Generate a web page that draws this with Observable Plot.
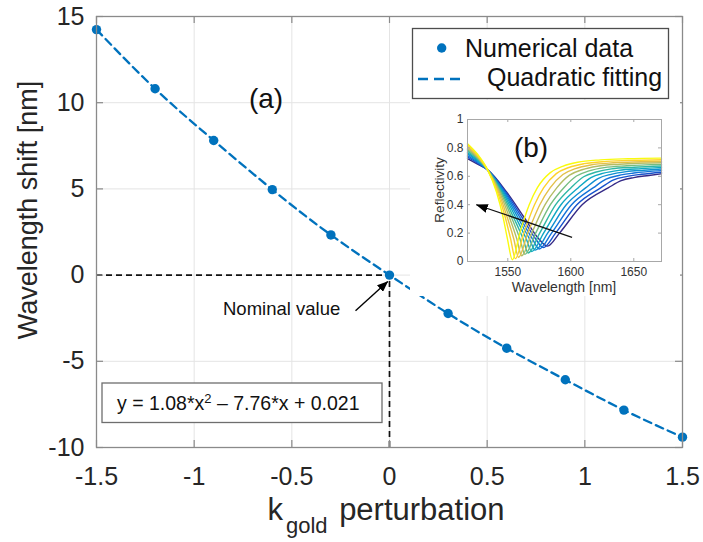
<!DOCTYPE html>
<html>
<head>
<meta charset="utf-8">
<script src="https://cdn.jsdelivr.net/npm/d3@7"></script>
<script src="https://cdn.jsdelivr.net/npm/@observablehq/plot@0.6"></script>
<style>
  html, body { margin: 0; padding: 0; background: #fff; }
  #chart { position: relative; width: 703px; height: 542px; overflow: hidden; }
  #inset { position: absolute; left: 410px; top: 100px; width: 270px; height: 196px; }
</style>
</head>
<body>
<div id="chart"><div id="inset"></div></div>
<script>
// ---------------- main panel data ----------------
const kGold = [-1.5, -1.2, -0.9, -0.6, -0.3, 0, 0.3, 0.6, 0.9, 1.2, 1.5];
const wavelengthShift = [14.24, 10.81, 7.81, 4.96, 2.33, 0, -2.23, -4.24, -6.07, -7.83, -9.40];
const xTicks = [-1.5, -1, -0.5, 0, 0.5, 1, 1.5];
const yTicks = [-10, -5, 0, 5, 10, 15];
const xDomain = [-1.5, 1.5];
const yDomain = [-10, 15];
const nominalPoint = [{k: 0, shift: 0}];
const nominalArrow = [{x1: -0.174, y1: -2.07, x2: -0.009, y2: -0.37}];
const legendLabels = ["Numerical data", "Quadratic fitting"];
const panelLabels = ["(a)", "(b)"];
const annotationLabel = "Nominal value";
const fitEquation = ["y = 1.08*x", "2", " \u2013 7.76*x + 0.021"];
const xLabelParts = ["k", "gold", " perturbation"];
const yLabel = "Wavelength shift [nm]";

// ---------------- inset data ----------------
const insetXDomain = [1518, 1672];
const insetYDomain = [0, 1];
const insetXTicks = [1550, 1600, 1650];
const insetYTicks = [0, 0.2, 0.4, 0.6, 0.8, 1];
const insetXLabel = "Wavelength [nm]";
const insetYLabel = "Reflectivity";
const spectraWavelength = [
  [1518,1526,1534,1549,1563,1574.5,1581.5,1591,1609,1630,1640,1650,1662,1672],
  [1518,1526,1534,1548.2,1561.3,1572,1578.1,1587.9,1604.8,1624,1634,1644,1656,1672],
  [1518,1526,1534,1547.4,1559.6,1569.5,1574.9,1584.7,1600.6,1618,1628,1638,1650,1672],
  [1518,1526,1534,1546.6,1558,1567.1,1571.8,1581.6,1596.4,1612,1622,1632,1644,1658,1672],
  [1518,1526,1534,1545.8,1556.3,1564.6,1569,1578.4,1592.2,1606,1616,1626,1638,1656,1672],
  [1518,1526,1534,1545,1554.6,1562.1,1566.2,1575.3,1588,1600.2,1610.2,1620.2,1632.2,1650.2,1672],
  [1518,1526,1534,1544.2,1553,1559.6,1563.6,1572.1,1583.8,1594.5,1604.5,1614.5,1626.5,1644.5,1672],
  [1518,1526,1534,1543.4,1551.3,1557.1,1561,1569,1579.6,1589,1599,1609,1621,1639,1672],
  [1518,1526,1534,1542.6,1549.6,1554.7,1558.5,1565.8,1575.4,1583.7,1593.7,1603.7,1615.7,1633.7,1655.7,1672],
  [1518,1526,1534,1541.8,1548,1552.2,1556,1562.7,1571.2,1578.5,1588.5,1598.5,1610.5,1628.5,1650.5,1672],
  [1518,1526,1534,1541,1546.3,1549.7,1553.6,1559.5,1567,1573.5,1583.5,1593.5,1605.5,1623.5,1645.5,1672]
];
const spectraReflectivity = [
  [0.725,0.685,0.645,0.49,0.31,0.16,0.108,0.2,0.4,0.52,0.569,0.591,0.606,0.618],
  [0.736,0.692,0.645,0.49,0.31,0.16,0.098,0.2,0.4,0.52,0.575,0.598,0.614,0.629],
  [0.746,0.699,0.645,0.49,0.31,0.16,0.088,0.2,0.4,0.52,0.58,0.606,0.623,0.64],
  [0.757,0.706,0.645,0.49,0.31,0.16,0.08,0.2,0.4,0.52,0.586,0.614,0.633,0.643,0.651],
  [0.767,0.713,0.645,0.49,0.31,0.16,0.07,0.2,0.4,0.52,0.591,0.622,0.642,0.654,0.662],
  [0.778,0.72,0.645,0.49,0.31,0.16,0.06,0.2,0.4,0.52,0.597,0.63,0.652,0.664,0.673],
  [0.788,0.727,0.645,0.49,0.31,0.16,0.05,0.2,0.4,0.52,0.602,0.638,0.661,0.674,0.684],
  [0.798,0.734,0.645,0.49,0.31,0.16,0.04,0.2,0.4,0.52,0.608,0.646,0.671,0.685,0.695],
  [0.809,0.741,0.645,0.49,0.31,0.16,0.03,0.2,0.4,0.52,0.613,0.654,0.68,0.695,0.702,0.706],
  [0.82,0.748,0.645,0.49,0.31,0.16,0.02,0.2,0.4,0.52,0.619,0.662,0.689,0.705,0.713,0.717],
  [0.83,0.755,0.645,0.49,0.31,0.16,0.012,0.2,0.4,0.52,0.624,0.67,0.699,0.716,0.724,0.728]
];
const insetArrow = [{x1: 1601, y1: 0.17, x2: 1525, y2: 0.40}];

// ---------------- styles ----------------
const FONT = '"Liberation Sans", Arial, Helvetica, sans-serif';
const BLUE = "#0072BD";
const FRAME = "#8a8a8a";
const GRID = "#e4e4e4";
const TEXT = "#262626";
const parulaAnchors = ["#352a87", "#0f5cdd", "#1481d6", "#06a4ca", "#2eb7a4", "#87bf77", "#d1bb59", "#fec832", "#f9fb0e"];
const spectraColors = d3.quantize(d3.piecewise(d3.interpolateRgb, parulaAnchors), spectraWavelength.length);

// ---------------- main panel ----------------
const W = 703, H = 542, mL = 96, mR = 21, mT = 16, mB = 95;
const plotW = W - mL - mR, plotH = H - mT - mB;
const mainRows = kGold.map((k, i) => ({k, shift: wavelengthShift[i]}));

const main = Plot.plot({
  width: W, height: H,
  marginLeft: mL, marginRight: mR, marginTop: mT, marginBottom: mB,
  style: {fontFamily: FONT, color: TEXT, background: "#fff", overflow: "visible"},
  x: {domain: xDomain, label: null},
  y: {domain: yDomain, label: null},
  marks: [
    Plot.ruleX(xTicks, {stroke: GRID, strokeWidth: 1}),
    Plot.ruleY(yTicks, {stroke: GRID, strokeWidth: 1}),
    Plot.ruleY(nominalPoint, {y: "shift", x1: () => xDomain[0], x2: "k", stroke: "#111", strokeWidth: 1.7, strokeDasharray: "6,4"}),
    Plot.ruleX(nominalPoint, {x: "k", y1: () => yDomain[0], y2: "shift", stroke: "#111", strokeWidth: 1.7, strokeDasharray: "6,4"}),
    Plot.line(mainRows, {x: "k", y: "shift", curve: "natural", stroke: BLUE, strokeWidth: 2.3, strokeDasharray: "8,5"}),
    Plot.dot(mainRows, {x: "k", y: "shift", r: 4.7, fill: BLUE, stroke: "none"}),
    Plot.link(nominalArrow, {x1: "x1", y1: "y1", x2: "x2", y2: "y2", stroke: "#000", strokeWidth: 1.4}),
    Plot.frame({stroke: FRAME, strokeWidth: 1.3}),
    Plot.ruleX(xTicks, {stroke: FRAME, strokeWidth: 1.2, insetTop: plotH - 7}),
    Plot.ruleX(xTicks, {stroke: FRAME, strokeWidth: 1.2, insetBottom: plotH - 7}),
    Plot.ruleY(yTicks, {stroke: FRAME, strokeWidth: 1.2, insetRight: plotW - 7}),
    Plot.ruleY(yTicks, {stroke: FRAME, strokeWidth: 1.2, insetLeft: plotW - 7}),
    Plot.axisX({ticks: xTicks, tickSize: 0, tickPadding: 20, tickFormat: d => String(d), fontSize: 25, label: null}),
    Plot.axisY({ticks: yTicks, tickSize: 0, tickPadding: 12, tickFormat: d => String(d), fontSize: 25, label: null})
  ]
});
document.getElementById("chart").insertBefore(main, document.getElementById("inset"));

const svg = d3.select(main);
svg.append("defs").append("marker")
  .attr("id", "headMain").attr("viewBox", "0 0 11 9").attr("refX", 10.5).attr("refY", 4.5)
  .attr("markerWidth", 11).attr("markerHeight", 9).attr("markerUnits", "userSpaceOnUse").attr("orient", "auto")
  .append("path").attr("d", "M0,0L11,4.5L0,9Z").attr("fill", "#000");
svg.selectAll('g[aria-label="link"] path').attr("marker-end", "url(#headMain)");

// axis titles
svg.append("text")
  .attr("transform", "translate(37,210) rotate(-90)")
  .attr("text-anchor", "middle").attr("font-size", 27).attr("fill", TEXT)
  .text(yLabel);
const xl = svg.append("text")
  .attr("x", 386).attr("y", 520).attr("text-anchor", "middle").attr("font-size", 31).attr("fill", TEXT);
xl.append("tspan").text(xLabelParts[0]);
xl.append("tspan").attr("font-size", 22).attr("dy", 13).attr("dx", 3).text(xLabelParts[1]);
xl.append("tspan").attr("font-size", 31).attr("dy", -13).attr("dx", 3).text(xLabelParts[2]);

// panel label (a)
svg.append("text").attr("x", 266).attr("y", 108).attr("text-anchor", "middle")
  .attr("font-size", 28).attr("fill", "#111").text(panelLabels[0]);

// nominal value annotation text
svg.append("text").attr("x", 223).attr("y", 315).attr("text-anchor", "start")
  .attr("font-size", 18.5).attr("fill", "#111").text(annotationLabel);

// equation box
svg.append("rect").attr("x", 102).attr("y", 383).attr("width", 280).attr("height", 39.5)
  .attr("fill", "#fff").attr("stroke", "#6e6e6e").attr("stroke-width", 1.3);
const eq = svg.append("text").attr("x", 117).attr("y", 410).attr("text-anchor", "start")
  .attr("font-size", 19.5).attr("fill", "#111");
eq.append("tspan").text(fitEquation[0]);
eq.append("tspan").attr("font-size", 13).attr("dy", -7).text(fitEquation[1]);
eq.append("tspan").attr("dy", 7).text(fitEquation[2]);

// legend
const lg = svg.append("g").attr("text-anchor", "start");
lg.append("rect").attr("x", 412.5).attr("y", 28.5).attr("width", 256).attr("height", 70)
  .attr("fill", "#fff").attr("stroke", "#4d4d4d").attr("stroke-width", 1.3);
lg.append("circle").attr("cx", 441.7).attr("cy", 48).attr("r", 4.7).attr("fill", BLUE);
lg.append("text").attr("x", 465).attr("y", 56.5).attr("font-size", 25).attr("fill", "#111").text(legendLabels[0]);
lg.append("line").attr("x1", 418).attr("x2", 460).attr("y1", 79).attr("y2", 79)
  .attr("stroke", BLUE).attr("stroke-width", 2.3).attr("stroke-dasharray", "10,6");
lg.append("text").attr("x", 487).attr("y", 85.5).attr("font-size", 25).attr("fill", "#111").text(legendLabels[1]);

// ---------------- inset panel ----------------
const iW = 270, iH = 196, imL = 57, imR = 19, imT = 19, imB = 35;
const iPlotW = iW - imL - imR, iPlotH = iH - imT - imB;
const spectraRows = [];
spectraWavelength.forEach((wls, c) => {
  wls.forEach((wl, j) => spectraRows.push({curve: c, wl, refl: spectraReflectivity[c][j], color: spectraColors[c]}));
});
const INSET_FRAME = "#a8a8a8";
const inset = Plot.plot({
  width: iW, height: iH,
  marginLeft: imL, marginRight: imR, marginTop: imT, marginBottom: imB,
  style: {fontFamily: FONT, color: "#333", background: "#fff", overflow: "visible"},
  x: {domain: insetXDomain, label: null},
  y: {domain: insetYDomain, label: null},
  color: {type: "identity"},
  marks: [
    Plot.line(spectraRows, {x: "wl", y: "refl", z: "curve", stroke: "color", curve: "monotone-x", strokeWidth: 1.4}),
    Plot.link(insetArrow, {x1: "x1", y1: "y1", x2: "x2", y2: "y2", stroke: "#111", strokeWidth: 1.2}),
    Plot.frame({stroke: INSET_FRAME, strokeWidth: 1}),
    Plot.ruleX(insetXTicks, {stroke: INSET_FRAME, insetTop: iPlotH - 3}),
    Plot.ruleX(insetXTicks, {stroke: INSET_FRAME, insetBottom: iPlotH - 3}),
    Plot.ruleY(insetYTicks, {stroke: INSET_FRAME, insetRight: iPlotW - 3}),
    Plot.ruleY(insetYTicks, {stroke: INSET_FRAME, insetLeft: iPlotW - 3}),
    Plot.axisX({ticks: insetXTicks, tickSize: 0, tickPadding: 6, tickFormat: d => String(d), fontSize: 12, label: null}),
    Plot.axisY({ticks: insetYTicks, tickSize: 0, tickPadding: 4, tickFormat: d => String(d), fontSize: 12, label: null})
  ]
});
document.getElementById("inset").appendChild(inset);
const isvg = d3.select(inset);
isvg.append("defs").append("marker")
  .attr("id", "headInset").attr("viewBox", "0 0 12 9").attr("refX", 11.5).attr("refY", 4.5)
  .attr("markerWidth", 12).attr("markerHeight", 9).attr("markerUnits", "userSpaceOnUse").attr("orient", "auto")
  .append("path").attr("d", "M0,0L12,4.5L0,9Z").attr("fill", "#000");
isvg.selectAll('g[aria-label="link"] path').attr("marker-end", "url(#headInset)");
isvg.append("text").attr("x", imL + iPlotW / 2).attr("y", 192).attr("text-anchor", "middle")
  .attr("font-size", 14).attr("fill", "#333").text(insetXLabel);
isvg.append("text").attr("transform", "translate(33.5," + (imT + iPlotH / 2) + ") rotate(-90)")
  .attr("text-anchor", "middle").attr("font-size", 13.5).attr("fill", "#333").text(insetYLabel);
isvg.append("text").attr("x", 121).attr("y", 57).attr("text-anchor", "middle")
  .attr("font-size", 28).attr("fill", "#111").text(panelLabels[1]);
</script>
</body>
</html>
